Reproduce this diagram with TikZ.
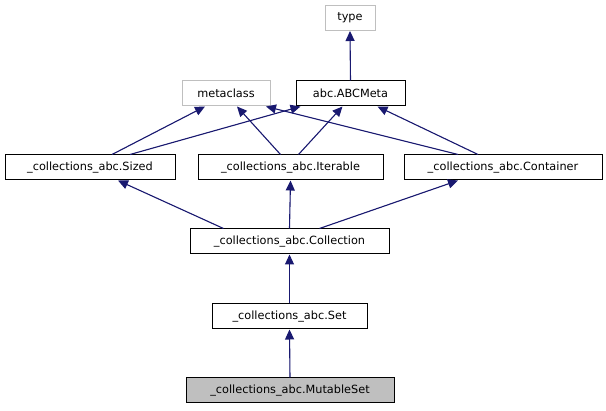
\documentclass[tikz,border=0pt]{standalone}
\usepackage{fontspec}
\setmainfont{DejaVu Sans}
\usetikzlibrary{arrows.meta}
\definecolor{edgeblue}{HTML}{191970}
\definecolor{lightframe}{HTML}{BFBFBF}
\begin{document}
\begin{tikzpicture}[
    x=1pt,
    y=-1pt,
    block/.style={
        rectangle,
        draw=black,
        fill=white,
        line width=1pt,
        minimum height=25pt,
        inner sep=0pt,
        font=\fontsize{11.3}{12}\selectfont
    },
    external/.style={
        block,
        draw=lightframe
    },
    current/.style={
        block,
        fill=lightframe
    },
    arrow/.style={
        -{Triangle[length=10pt,width=9pt]},
        draw=edgeblue,
        fill=edgeblue,
        line width=1.1pt
    }
]
\useasboundingbox (0,0) rectangle (606,411);

% Nodes
\node [external, minimum width=50pt] (type) at (350,18) {type};
\node [external, minimum width=88pt] (metaclass) at (226,93.5) {metaclass};
\node [block, minimum width=109pt] (abcmeta) at (350.5,93.5) {abc.ABCMeta};
\node [block, minimum width=170pt] (sized) at (90,167.5) {\_collections\_abc.Sized};
\node [block, minimum width=185pt] (iterable) at (290.5,167.5) {\_collections\_abc.Iterable};
\node [block, minimum width=198pt] (container) at (503,167.5) {\_collections\_abc.Container};
\node [block, minimum width=199pt] (collection) at (289.5,241.5) {\_collections\_abc.Collection};
\node [block, minimum width=155pt] (set) at (289.5,316.5) {\_collections\_abc.Set};
\node [current, minimum width=208pt] (mutableset) at (290,390.5) {\_collections\_abc.MutableSet};

% Arrows
\draw [arrow] (abcmeta.north) -- (type.south);
\draw [arrow] ([xshift=22pt]sized.north) -- ([xshift=-21pt]metaclass.south);
\draw [arrow] ([xshift=40pt]sized.north) -- ([xshift=-50pt]abcmeta.south);
\draw [arrow] ([xshift=-10pt]iterable.north) -- ([xshift=11pt]metaclass.south);
\draw [arrow] ([xshift=8pt]iterable.north) -- ([xshift=-8pt]abcmeta.south);
\draw [arrow] ([xshift=-45pt]container.north) -- ([xshift=40pt]metaclass.south);
\draw [arrow] ([xshift=-25pt]container.north) -- ([xshift=27pt]abcmeta.south);
\draw [arrow] ([xshift=-66pt]collection.north) -- ([xshift=28pt]sized.south);
\draw [arrow] (collection.north) -- (iterable.south);
\draw [arrow] ([xshift=30pt]collection.north) -- ([xshift=-45pt]container.south);
\draw [arrow] (set.north) -- (collection.south);
\draw [arrow] (mutableset.north) -- (set.south);

\end{tikzpicture}
\end{document}
